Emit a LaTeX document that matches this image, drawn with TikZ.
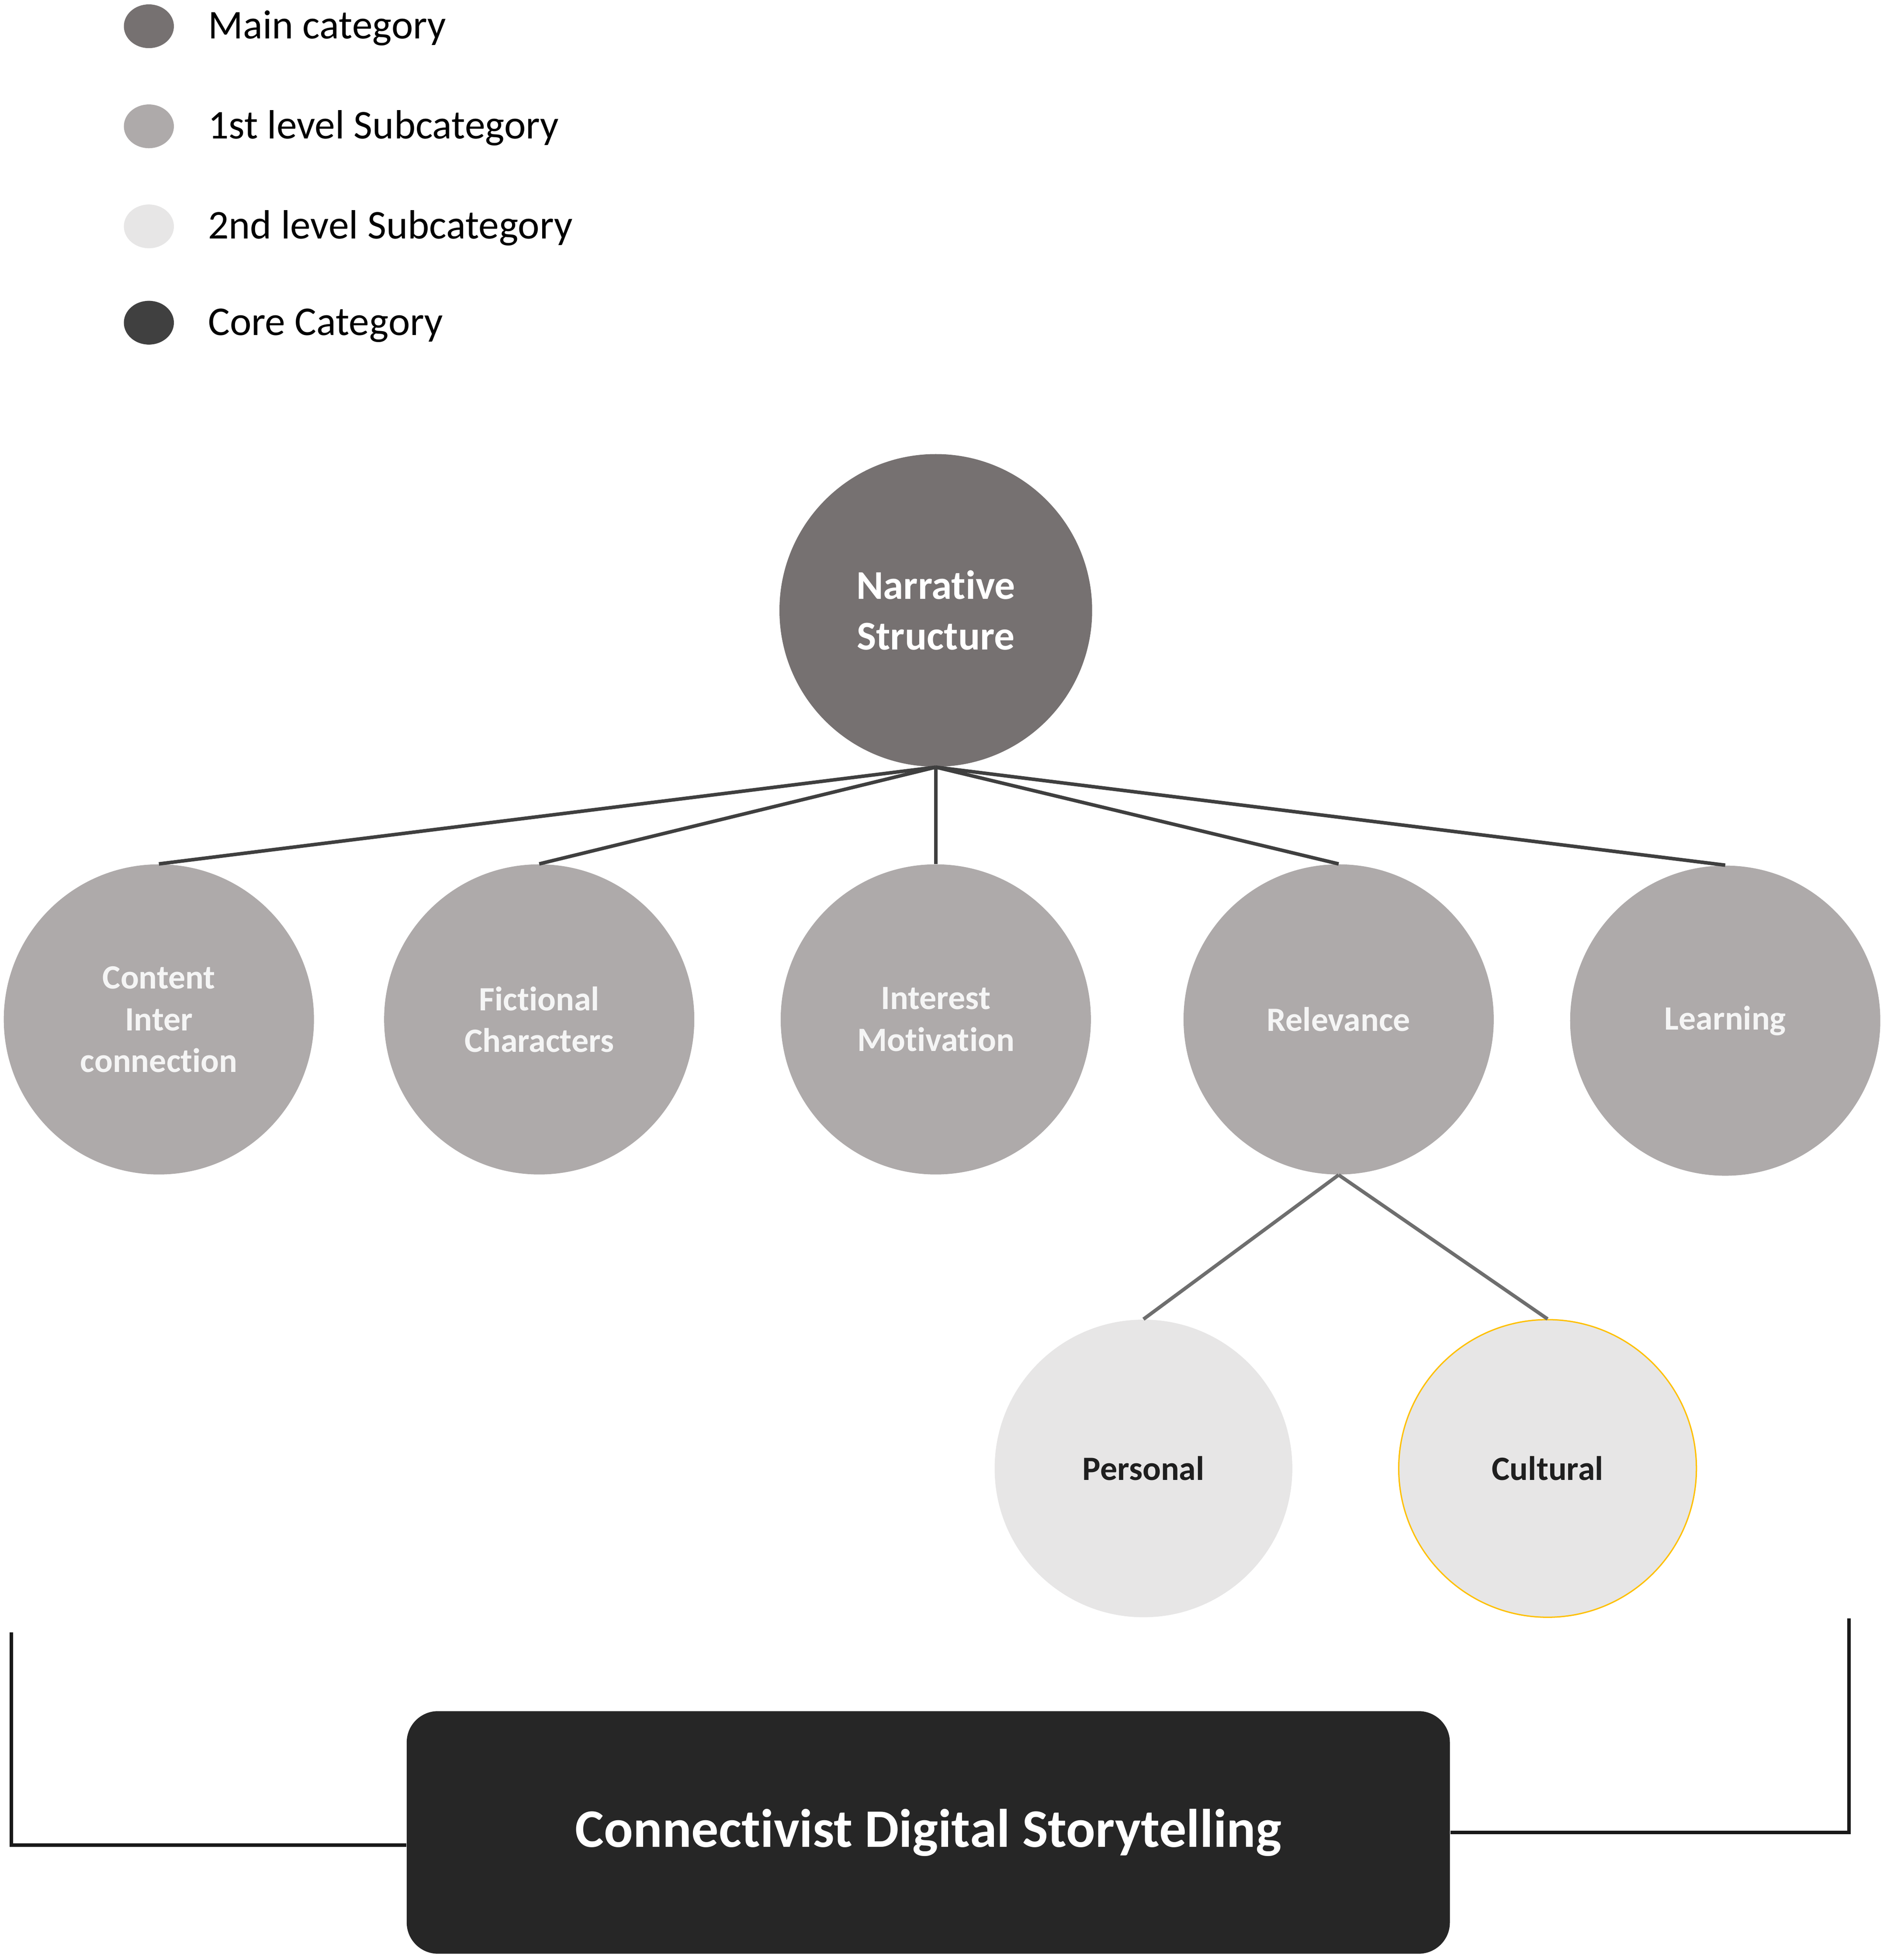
\documentclass[tikz,border=0pt]{standalone}
\usepackage{fontspec}
\setmainfont{Carlito}[Ligatures=NoCommon]
\usetikzlibrary{shapes.geometric}
\definecolor{maincat}{HTML}{767171}
\definecolor{firstsub}{HTML}{AEAAAA}
\definecolor{secondsub}{HTML}{E7E6E6}
\definecolor{corecat}{HTML}{404040}
\definecolor{corebox}{HTML}{262626}
\definecolor{linkdark}{HTML}{3F3F3F}
\definecolor{linkgray}{HTML}{6E6E6E}
\definecolor{gold}{HTML}{FFC000}

\begin{document}
\begin{tikzpicture}[x=0.02cm,y=-0.02cm,
    legdot/.style={ellipse,minimum width=0.8cm,minimum height=0.7cm,inner sep=0pt},
    legtext/.style={anchor=base west,inner sep=0pt,font=\fontsize{18.6}{22}\selectfont},
    maincircle/.style={circle,fill=maincat,minimum size=5cm,inner sep=0pt,text=white,align=center,font=\bfseries\fontsize{18.6}{23}\selectfont},
    subone/.style={circle,fill=firstsub,minimum size=4.96cm,inner sep=0pt,text=white!96!black,align=center,font=\bfseries\fontsize{15.5}{19}\selectfont},
    subtwo/.style={circle,fill=secondsub,minimum size=4.76cm,inner sep=0pt,text=black!88,font=\bfseries\fontsize{15.5}{19}\selectfont},
    link/.style={draw=linkdark,line width=1.6pt},
    sublink/.style={draw=linkgray,line width=1.6pt},
    bracket/.style={draw=black!90,line width=1.6pt}]

    \useasboundingbox (0,0) rectangle (1508,1567);

    % legend
    \node[legdot,fill=maincat] (dmain) at (119,21) {};
    \node[legtext] (tmain) at (166,31) {Main category};
    \node[legdot,fill=firstsub] (dfirst) at (119,101) {};
    \node[legtext] (tfirst) at (166,111) {1st level Subcategory};
    \node[legdot,fill=secondsub] (dsecond) at (119,181) {};
    \node[legtext] (tsecond) at (166,191) {2nd level Subcategory};
    \node[legdot,fill=corecat] (dcore) at (119,258) {};
    \node[legtext] (tcore) at (166,268) {Core Category};

    % main category
    \node[maincircle] (narr) at (748,488) {Narrative\\Structure};

    % 1st level subcategories
    \node[subone] (cont) at (127,815) {Content\\Inter\\connection};
    \node[subone] (fict) at (431,815) {Fictional\\Characters};
    \node[subone] (intr) at (748,815) {Interest\\Motivation};
    \node[subone] (relv) at (1070,815) {Relevance};
    \node[subone] (lern) at (1379,816) {Learning};

    % 2nd level subcategories
    \node[subtwo] (pers) at (914,1174) {Personal};
    \node[subtwo,draw=gold,line width=0.6pt] (cult) at (1237,1174) {Cultural};

    % links
    \foreach \sub in {cont,fict,intr,relv,lern}
        \draw[link] (narr.south) -- (\sub.north);
    \draw[sublink] (relv.south) -- (pers.north);
    \draw[sublink] (relv.south) -- (cult.north);

    % core category
    \node[fill=corebox,rounded corners=0.5cm,minimum width=16.68cm,minimum height=3.88cm,text=white,font=\bfseries\fontsize{24.7}{30}\selectfont] (core) at (742,1465) {Connectivist Digital Storytelling};

    % bracket
    \coordinate (ltop) at (9,1305);
    \coordinate (rtop) at (1478,1294);
    \draw[bracket] (ltop) |- ([yshift=-0.2cm]core.west);
    \draw[bracket] (rtop) |- (core.east);
\end{tikzpicture}
\end{document}
